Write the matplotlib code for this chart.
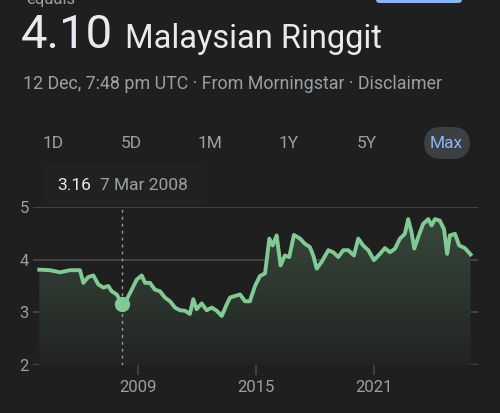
import numpy as np
import matplotlib.pyplot as plt
from matplotlib.patches import FancyBboxPatch
from matplotlib.colors import LinearSegmentedColormap

# Exchange rate history (decimal year, MYR per USD)
years = [2003.98, 2004.53, 2005.03, 2005.54, 2006.05, 2006.22, 2006.47, 2006.73,
         2006.98, 2007.24, 2007.49, 2007.66, 2007.92, 2008.18, 2008.43, 2008.68,
         2008.93, 2009.19, 2009.36, 2009.61, 2009.86, 2010.12, 2010.37, 2010.63,
         2010.88, 2011.14, 2011.39, 2011.64, 2011.81, 2011.98, 2012.24, 2012.49,
         2012.75, 2013.00, 2013.26, 2013.51, 2013.68, 2013.93, 2014.19, 2014.44,
         2014.69, 2014.95, 2015.20, 2015.46, 2015.68, 2015.85, 2016.05, 2016.25,
         2016.47, 2016.69, 2016.93, 2017.24, 2017.49, 2017.74, 2017.91, 2018.09,
         2018.34, 2018.68, 2018.93, 2019.18, 2019.44, 2019.69, 2019.98, 2020.20,
         2020.45, 2020.71, 2021.00, 2021.30, 2021.56, 2021.81, 2022.07, 2022.32,
         2022.57, 2022.74, 2022.91, 2023.05, 2023.25, 2023.50, 2023.76, 2023.93,
         2024.10, 2024.35, 2024.56, 2024.72, 2024.86, 2025.12, 2025.33, 2025.62,
         2025.91]
rates = [3.81, 3.80, 3.76, 3.80, 3.80, 3.56, 3.67, 3.70,
         3.53, 3.47, 3.50, 3.40, 3.34, 3.16, 3.25, 3.43,
         3.62, 3.70, 3.56, 3.56, 3.43, 3.40, 3.28, 3.21,
         3.09, 3.04, 3.03, 2.97, 3.25, 3.06, 3.17, 3.04,
         3.09, 3.03, 2.93, 3.15, 3.28, 3.31, 3.34, 3.21,
         3.21, 3.50, 3.69, 3.74, 4.40, 4.27, 4.46, 3.89,
         4.08, 4.05, 4.47, 4.40, 4.30, 4.24, 4.08, 3.83,
         3.96, 4.18, 4.14, 4.05, 4.18, 4.18, 4.08, 4.40,
         4.27, 4.18, 3.99, 4.11, 4.22, 4.14, 4.21, 4.40,
         4.49, 4.77, 4.52, 4.21, 4.43, 4.68, 4.77, 4.65,
         4.77, 4.74, 4.58, 4.11, 4.46, 4.49, 4.27, 4.22,
         4.10]

hover_year = 2008.18
hover_rate = 3.16
y_ticks = [2, 3, 4, 5]
x_ticks = [2009, 2015, 2021]
ranges = ['1D', '5D', '1M', '1Y', '5Y', 'Max']
range_x = [53, 131, 210, 289, 367, 446]

BG = '#1f1f1f'
GREEN = '#81c995'
GREY = '#9aa0a6'
W, H = 500, 413

plt.rcParams['font.family'] = ['Roboto', 'DejaVu Sans']

fig = plt.figure(figsize=(5, 4.13), dpi=100, facecolor=BG)


def fx(x):
    return x / W


def fy(y):
    return 1 - y / H


# header (top line is cut off in the original screenshot)
fig.text(fx(26), fy(4), 'equals', color=GREY, fontsize=12, va='baseline')
fig.patches.append(FancyBboxPatch((fx(376), fy(3)), fx(86), 0.05,
                                  boxstyle='round,pad=0,rounding_size=0.008',
                                  transform=fig.transFigure, facecolor='#8ab4f8',
                                  edgecolor='none'))
fig.text(fx(21), fy(48), '4.10', color='#e8eaed', fontsize=34, va='baseline')
fig.text(fx(125), fy(48), 'Malaysian Ringgit', color='#e8eaed', fontsize=23.5,
         va='baseline')
fig.text(fx(23), fy(84), '12 Dec, 7:48 pm UTC · From Morningstar · Disclaimer',
         color=GREY, fontsize=12.9, va='center')

# range buttons
for lab, xc in zip(ranges, range_x):
    if lab == 'Max':
        fig.patches.append(FancyBboxPatch((fx(424), fy(159)), fx(46), fy(127) - fy(159),
                                          boxstyle='round,pad=0,rounding_size=0.035',
                                          transform=fig.transFigure,
                                          facecolor='#3c4043', edgecolor='none',
                                          mutation_aspect=1.2))
        fig.text(fx(xc), fy(143), lab, color='#8ab4f8', fontsize=12.5,
                 ha='center', va='center')
    else:
        fig.text(fx(xc), fy(143), lab, color=GREY, fontsize=12.5,
                 ha='center', va='center')

# tooltip
fig.patches.append(FancyBboxPatch((fx(46), fy(204)), fx(160), fy(167) - fy(204),
                                  boxstyle='round,pad=0,rounding_size=0.006',
                                  transform=fig.transFigure, facecolor='#212121',
                                  edgecolor='#262626', linewidth=0.8))
fig.text(fx(57), fy(185), f'{hover_rate:.2f}', color='#e8eaed', fontsize=12.5, va='center')
fig.text(fx(100), fy(185), '7 Mar 2008', color=GREY, fontsize=12.5, va='center')

# chart
ax = fig.add_axes([fx(33), fy(365), fx(478) - fx(33), fy(207) - fy(365)])
ax.set_facecolor(BG)
ax.set_xlim(2003.66, 2026.29)
ax.set_ylim(2, 5)

for t in y_ticks:
    ax.axhline(t, color='#4a4a4a', lw=1.2, zorder=1)

poly = ax.fill_between(years, rates, 2, color='none', zorder=2)
cmap = LinearSegmentedColormap.from_list('g', ['#222422', '#36483b'])
grad = np.linspace(0, 1, 256).reshape(-1, 1)
img = ax.imshow(grad, cmap=cmap, aspect='auto', origin='lower',
                extent=[years[0], years[-1], 2, 4.8], zorder=2)
img.set_clip_path(poly.get_paths()[0], transform=ax.transData)

ax.plot(years, rates, color=GREEN, lw=2.8, zorder=4, solid_joinstyle='round')

ax.axvline(hover_year, color=GREY, lw=1, ls=(0, (2, 3)), zorder=3)
ax.plot([hover_year], [hover_rate], 'o', color=GREEN, ms=10, zorder=5)

ax.set_yticks(y_ticks)
ax.set_xticks(x_ticks)
ax.tick_params(axis='y', length=0, colors=GREY, labelsize=12, pad=3)
ax.tick_params(axis='x', length=7, width=1.2, color='#4a4a4a', colors=GREY,
               labelsize=12, pad=4)
for s in ax.spines.values():
    s.set_visible(False)

fig.savefig('out.png', dpi=100, facecolor=BG)
